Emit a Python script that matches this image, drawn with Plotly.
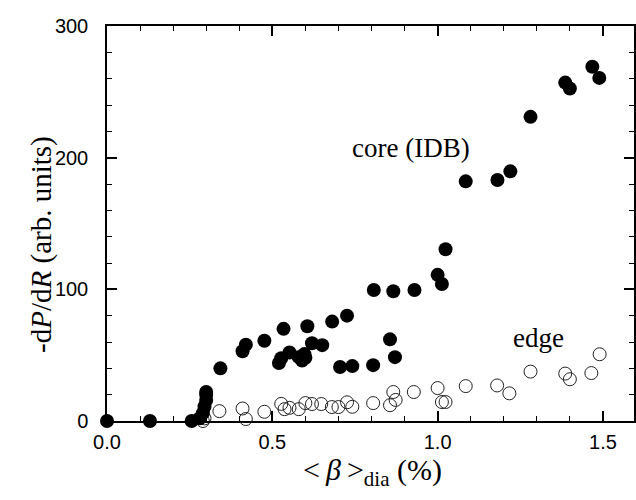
import plotly.graph_objects as go

# core (IDB) data - filled circles
core_beta = [0.0, 0.13, 0.256, 0.28, 0.29, 0.295, 0.30, 0.30, 0.30,
             0.343, 0.41, 0.42, 0.476, 0.52, 0.527, 0.534, 0.552, 0.58, 0.59,
             0.597, 0.60, 0.606, 0.62, 0.651, 0.681, 0.705, 0.726, 0.742,
             0.805, 0.807, 0.856, 0.866, 0.871, 0.93, 1.0, 1.013, 1.024,
             1.085, 1.181, 1.22, 1.281, 1.386, 1.40, 1.468, 1.489]
core_dpdr = [0, 0, 0, 2, 6, 11, 16, 20, 22,
             40, 53, 58, 61, 44, 47.7, 70, 52, 48.5, 46,
             50.8, 48, 72, 59, 57.6, 75.5, 41, 80, 41.7,
             42.4, 99.5, 62, 98.5, 48.5, 99.5, 111, 104, 130.5,
             182, 183, 189.6, 231, 257, 252.5, 269, 260.6]

# edge data - open circles
edge_beta = [0.29, 0.295, 0.34, 0.41, 0.42, 0.476, 0.527, 0.537, 0.552,
             0.58, 0.60, 0.62, 0.648, 0.68, 0.70, 0.726, 0.742, 0.805,
             0.856, 0.866, 0.873, 0.928, 1.0, 1.013, 1.024, 1.085, 1.18,
             1.217, 1.281, 1.386, 1.40, 1.465, 1.49]
edge_dpdr = [0, 2, 7.5, 9.5, 1.5, 7, 13, 9, 10,
             9, 13.6, 12.9, 12.9, 10.6, 10.6, 14.2, 10.8, 13.6,
             12, 22, 16, 22, 25, 14.4, 14.4, 26.5, 27,
             21, 37.5, 36, 31.7, 36.4, 50.7]

x_ticks = [0.0, 0.5, 1.0, 1.5]
x_ticklabels = ["0.0", "0.5", "1.0", "1.5"]
y_ticks = [0, 100, 200, 300]
y_ticklabels = ["0", "100", "200", "300"]

fig = go.Figure()
fig.add_trace(go.Scatter(
    x=edge_beta, y=edge_dpdr, mode="markers", cliponaxis=False,
    marker=dict(symbol="circle-open", size=13, color="#222222",
                line=dict(width=1, color="#222222")),
    showlegend=False))
fig.add_trace(go.Scatter(
    x=core_beta, y=core_dpdr, mode="markers", cliponaxis=False,
    marker=dict(symbol="circle", size=14, color="black",
                line=dict(width=0)),
    showlegend=False))

axis_common = dict(
    showline=True, linecolor="black", linewidth=1.5, mirror="ticks",
    ticks="inside", ticklen=10, tickwidth=1.5, tickcolor="black",
    showgrid=False, zeroline=False,
    tickfont=dict(family="Liberation Sans, Arial, sans-serif", size=20, color="black"),
)

fig.update_xaxes(
    range=[0, 1.594], tickvals=x_ticks, ticktext=x_ticklabels,
    minor=dict(dtick=0.1, tick0=0, ticks="inside", ticklen=5, tickwidth=1.2,
               tickcolor="black", showgrid=False),
    ticklabelstandoff=2,
    **axis_common)
fig.update_yaxes(
    range=[0, 300], tickvals=y_ticks, ticktext=y_ticklabels,
    minor=dict(dtick=20, tick0=0, ticks="inside", ticklen=5, tickwidth=1.2,
               tickcolor="black", showgrid=False),
    ticklabelstandoff=13,
    **axis_common)

serif = "Liberation Serif, Times New Roman, serif"
fig.update_layout(
    width=636, height=500,
    margin=dict(l=107, r=0, t=26, b=79),
    plot_bgcolor="white", paper_bgcolor="white",
    annotations=[
        dict(text="core (IDB)", x=0.92, y=207, xref="x", yref="y",
             showarrow=False, font=dict(family=serif, size=27, color="black")),
        dict(text="edge", x=1.305, y=63, xref="x", yref="y",
             showarrow=False, font=dict(family=serif, size=27, color="black")),
        dict(text="-d<i>P</i>/d<i>R</i> (arb. units)", x=0, y=0.447,
             xref="paper", yref="paper", xshift=-84, textangle=-90,
             showarrow=False, font=dict(family=serif, size=29, color="black")),
        dict(text="&lt;\u2009<i>β</i>\u2009&gt;<sub>dia</sub> (%)", x=0.503, y=0,
             xref="paper", yref="paper", yshift=-51, yanchor="middle",
             showarrow=False, font=dict(family=serif, size=30, color="black")),
    ],
)

fig.write_html("out.html")
